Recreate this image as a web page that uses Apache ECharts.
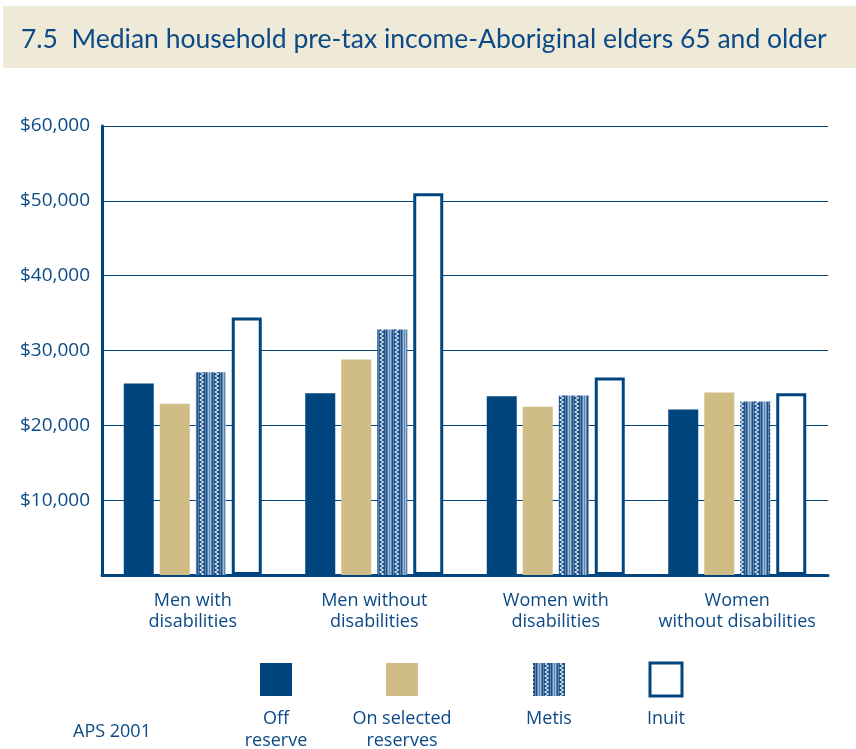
<!DOCTYPE html>
<html>
<head>
<meta charset="utf-8">
<script src="https://cdn.jsdelivr.net/npm/echarts@6/dist/echarts.min.js"></script>
<style>
  html, body { margin: 0; padding: 0; background: #fff; }
  #chart { width: 856px; height: 749px; }
</style>
</head>
<body>
<div id="chart"></div>
<script>
// Median household pre-tax income, Aboriginal elders 65 and older (APS 2001)
const categories = ['Men with\ndisabilities', 'Men without\ndisabilities', 'Women with\ndisabilities', 'Women\nwithout disabilities'];
const offReserve = [25600, 24300, 23900, 22100];
const onSelectedReserves = [22900, 28800, 22500, 24400];
const metis = [27100, 32800, 24000, 23200];
const inuit = [34400, 51000, 26400, 24300];
const seriesNames = ['Off\nreserve', 'On selected\nreserves', 'Metis', 'Inuit'];
const yTicks = { min: 0, max: 60000, interval: 10000 };

const NAVY = '#00457d';
const TAN = '#cfbd85';
const TEXT = '#0b4a86';
const FONT = '"Open Sans", "Noto Sans", sans-serif';
const TITLE_FONT = 'Lato, "Open Sans", sans-serif';

// Woven stripe texture used for the Metis bars
function makeMetisPattern() {
  const c = document.createElement('canvas');
  c.width = 15; c.height = 8;
  const g = c.getContext('2d');
  g.fillStyle = '#5f86b1'; g.fillRect(0, 0, 15, 8);
  g.fillStyle = '#a3bcd6'; g.fillRect(0, 0, 1, 8); g.fillRect(13, 0, 1, 8);
  g.fillStyle = '#1b4f86'; g.fillRect(2, 0, 1, 8); g.fillRect(11, 0, 1, 8);
  g.fillStyle = '#124b85'; g.fillRect(4, 0, 6, 8);
  g.strokeStyle = '#dfe9f4'; g.lineWidth = 1.1;
  g.beginPath();
  g.moveTo(5, 0); g.lineTo(8.5, 2); g.lineTo(5, 4); g.lineTo(8.5, 6); g.lineTo(5, 8);
  g.stroke();
  return c;
}
const metisFill = { image: makeMetisPattern(), repeat: 'repeat' };

const chart = echarts.init(document.getElementById('chart'), null, { renderer: 'canvas' });

const legendX = [276, 402, 549, 666];
const legendGraphics = [];
const legendFills = [NAVY, TAN, metisFill, '#fff'];
legendX.forEach((cx, i) => {
  legendGraphics.push({
    type: 'rect',
    shape: { x: cx - 16, y: 663, width: 32, height: 33 },
    style: i === 3 ? { fill: '#fff', stroke: NAVY, lineWidth: 3 } : { fill: legendFills[i] }
  });
  legendGraphics.push({
    type: 'text',
    style: {
      text: seriesNames[i], x: cx, y: 708, align: 'center', verticalAlign: 'top',
      fill: TEXT, font: '18px ' + FONT, lineHeight: 22
    }
  });
});

const baseBar = { type: 'bar', barWidth: 30, barGap: '20%', barCategoryGap: '10%' };

chart.setOption({
  animation: false,
  backgroundColor: '#fff',
  graphic: [
    { type: 'rect', shape: { x: 3, y: 6, width: 853, height: 62 }, style: { fill: '#efe9d8' }, z: -1 },
    {
      type: 'text',
      style: {
        text: '7.5  Median household pre-tax income-Aboriginal elders 65 and older',
        x: 21, y: 39, verticalAlign: 'middle', fill: TEXT, font: '26.5px ' + TITLE_FONT
      }
    },
    {
      type: 'text',
      style: { text: 'APS 2001', x: 73, y: 732, verticalAlign: 'middle', fill: TEXT, font: '18px ' + FONT }
    }
  ].concat(legendGraphics),
  grid: { left: 102, right: 28, top: 126, bottom: 174, containLabel: false },
  xAxis: {
    type: 'category',
    data: categories,
    axisLine: { show: true, lineStyle: { color: NAVY, width: 3 } },
    axisTick: { show: false },
    axisLabel: { interval: 0, color: TEXT, fontSize: 18, fontFamily: FONT, lineHeight: 21, margin: 15 }
  },
  yAxis: {
    type: 'value',
    min: yTicks.min, max: yTicks.max, interval: yTicks.interval,
    axisLine: { show: true, lineStyle: { color: NAVY, width: 3 } },
    axisTick: { show: false },
    splitLine: { show: true, lineStyle: { color: NAVY, width: 1 } },
    axisLabel: {
      color: TEXT, fontSize: 19, fontFamily: FONT, margin: 12,
      formatter: v => v === 0 ? '' : '$' + v.toLocaleString('en-US')
    }
  },
  series: [
    Object.assign({}, baseBar, { name: 'Off reserve', data: offReserve, itemStyle: { color: NAVY } }),
    Object.assign({}, baseBar, { name: 'On selected reserves', data: onSelectedReserves, itemStyle: { color: TAN } }),
    Object.assign({}, baseBar, { name: 'Metis', data: metis, itemStyle: { color: metisFill } }),
    Object.assign({}, baseBar, { name: 'Inuit', data: inuit, itemStyle: { color: '#fff', borderColor: NAVY, borderWidth: 3 } })
  ]
});
</script>
</body>
</html>
